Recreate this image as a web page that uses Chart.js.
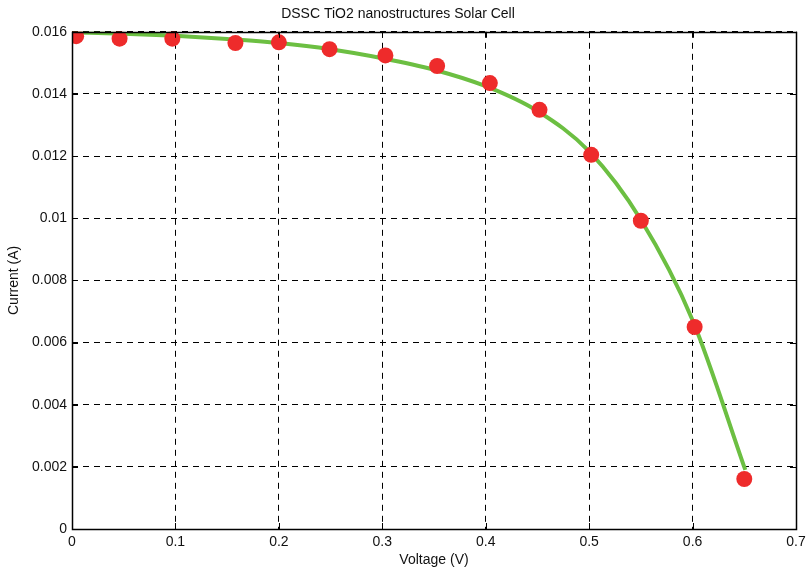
<!DOCTYPE html>
<html>
<head>
<meta charset="utf-8">
<script src="https://cdn.jsdelivr.net/npm/chart.js@4.4.1/dist/chart.umd.min.js"></script>
<style>
  html, body { margin: 0; padding: 0; background: #fff; }
  #wrap { width: 808px; height: 572px; }
</style>
</head>
<body>
<div id="wrap"><canvas id="chart"></canvas></div>
<script>
// measured points
const voltage = [0.004, 0.046, 0.097, 0.158, 0.2, 0.249, 0.303, 0.353, 0.404, 0.452, 0.502, 0.55, 0.602, 0.65];
const current = [0.01586, 0.01578, 0.01578, 0.01564, 0.01566, 0.01544, 0.01524, 0.0149, 0.01435, 0.01349, 0.01204, 0.00992, 0.0065, 0.00161];

// fitted curve
const fitVoltage = [0, 0.05, 0.1, 0.15, 0.2, 0.25, 0.3, 0.35, 0.4, 0.45, 0.5, 0.55, 0.6, 0.651];
const fitCurrent = [0.01598, 0.01594, 0.01587, 0.01577, 0.01564, 0.01544, 0.01515, 0.01478, 0.01425, 0.01345, 0.01215, 0.00995, 0.00672, 0.0019];

const xTicks = [0, 0.1, 0.2, 0.3, 0.4, 0.5, 0.6, 0.7];
const yTicks = [0, 0.002, 0.004, 0.006, 0.008, 0.01, 0.012, 0.014, 0.016];

const FONT = "'Liberation Sans', Arial, sans-serif";

const fmt = (v) => String(Number(v.toFixed(4)));

// frame + inward ticks, matlab style
const framePlugin = {
    id: "frame",
    afterDraw(chart) {
        const { ctx, chartArea: a, scales } = chart;
        ctx.save();
        ctx.strokeStyle = "#000";
        ctx.lineWidth = 1;
        ctx.setLineDash([]);
        const len = 6;
        ctx.beginPath();
        xTicks.forEach((t) => {
            const x = Math.round(scales.x.getPixelForValue(t)) + 0.5;
            ctx.moveTo(x, a.bottom); ctx.lineTo(x, a.bottom - len);
            ctx.moveTo(x, a.top); ctx.lineTo(x, a.top + len);
        });
        yTicks.forEach((t) => {
            const y = Math.round(scales.y.getPixelForValue(t)) + 0.5;
            ctx.moveTo(a.left, y); ctx.lineTo(a.left + len, y);
            ctx.moveTo(a.right, y); ctx.lineTo(a.right - len, y);
        });
        ctx.stroke();
        ctx.lineWidth = 1.5;
        ctx.strokeRect(Math.round(a.left) + 0.5, Math.round(a.top) + 0.5, Math.round(a.right - a.left), Math.round(a.bottom - a.top));
        ctx.restore();
    }
};

new Chart(document.getElementById("chart"), {
    type: "scatter",
    data: {
        datasets: [
            {
                label: "Measured",
                data: voltage.map((v, i) => ({ x: v, y: current[i] })),
                backgroundColor: "#ee2b2b",
                borderColor: "#ee2b2b",
                pointRadius: 8,
                pointBorderWidth: 0,
                order: 0
            },
            {
                label: "Fit",
                data: fitVoltage.map((v, i) => ({ x: v, y: fitCurrent[i] })),
                showLine: true,
                borderColor: "#6cbf42",
                borderWidth: 4,
                pointRadius: 0,
                cubicInterpolationMode: "monotone",
                order: 1
            }
        ]
    },
    options: {
        responsive: true,
        maintainAspectRatio: false,
        animation: false,
        layout: { padding: { left: 0, right: 12, top: 0, bottom: 0 } },
        plugins: {
            legend: { display: false },
            tooltip: { enabled: false },
            title: {
                display: true,
                text: "DSSC TiO2 nanostructures Solar Cell",
                color: "#111",
                font: { family: FONT, size: 14, weight: "normal" },
                padding: { top: 6, bottom: 9 }
            }
        },
        scales: {
            x: {
                type: "linear",
                min: 0,
                max: 0.7,
                afterBuildTicks: (s) => { s.ticks = xTicks.map((v) => ({ value: v })); },
                afterFit: (s) => { s.height = 43; s.paddingLeft = 0; s.paddingRight = 0; },
                grid: { color: "#000", lineWidth: 1, drawTicks: false },
                border: { display: false, dash: [6, 5] },
                ticks: {
                    color: "#111",
                    padding: 5,
                    font: { family: FONT, size: 14 },
                    callback: (v) => fmt(v)
                },
                title: {
                    display: true,
                    text: "Voltage (V)",
                    color: "#111",
                    font: { family: FONT, size: 14 },
                    padding: { top: 0, bottom: 3 }
                }
            },
            y: {
                min: 0,
                max: 0.016,
                afterBuildTicks: (s) => { s.ticks = yTicks.map((v) => ({ value: v })); },
                afterFit: (s) => { s.width = 72; s.paddingTop = 0; s.paddingBottom = 0; },
                grid: { color: "#000", lineWidth: 1, drawTicks: false },
                border: { display: false, dash: [6, 5] },
                ticks: {
                    color: "#111",
                    padding: 5,
                    font: { family: FONT, size: 14 },
                    callback: (v) => fmt(v)
                },
                title: {
                    display: true,
                    text: "Current (A)",
                    color: "#111",
                    font: { family: FONT, size: 14 },
                    padding: { top: 6, bottom: 0 }
                }
            }
        }
    },
    plugins: [framePlugin]
});
</script>
</body>
</html>
